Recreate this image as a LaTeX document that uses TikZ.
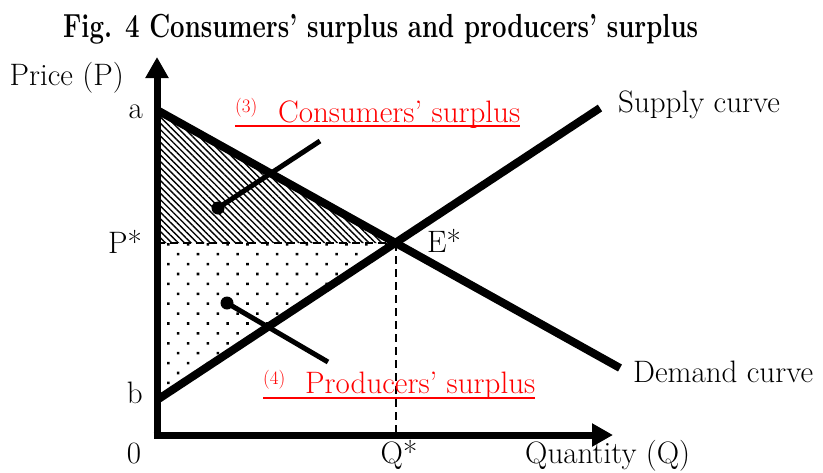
\documentclass[tikz,border=0pt]{standalone}
\usepackage{fontspec}
\usepackage{tikz}
\usetikzlibrary{positioning, arrows.meta, patterns.meta}

\begin{document}
\begin{tikzpicture}[
    x=1pt, y=-1pt,
    lbl/.style={font=\fontsize{31}{34}\selectfont, inner sep=0pt},
    ttl/.style={font=\fontsize{29}{32}\selectfont\bfseries, inner sep=0pt},
    redlbl/.style={lbl, text=red},
    num/.style={font=\fontsize{19}{21}\selectfont, text=red, inner sep=0pt},
    axis/.style={line width=7pt, -{Triangle[length=21pt, width=22pt]}},
    curve/.style={line width=8pt},
    guide/.style={line width=1.6pt, dash pattern=on 8pt off 5pt},
    leader/.style={line width=5pt},
    dot/.style={circle, fill, inner sep=0pt, minimum size=13pt},
    uline/.style={red, line width=2pt}
]
\useasboundingbox (0,0) rectangle (823,472);

% key points
\coordinate (O) at (157,435);
\coordinate (a) at (157,110);
\coordinate (b) at (157,400);
\coordinate (E) at (396,243);
\coordinate (Pstar) at (157,243);
\coordinate (Qstar) at (396,432);
\coordinate (demEnd) at (620,368);
\coordinate (supEnd) at (600,108);
\coordinate (yTip) at (157,57);
\coordinate (xTip) at (613,435);

% surplus areas
\fill[pattern={Lines[angle=-45, distance=4.5pt, line width=1.4pt]}] (a) -- (Pstar) -- (E) -- cycle;
\fill[pattern={Dots[angle=45, distance=14pt, radius=1.8pt]}] (Pstar) -- (E) -- (b) -- cycle;

\draw[guide] (Pstar) -- (E);
\draw[guide] (E) -- (Qstar);

% axes
\draw[axis] ([yshift=-3.5pt]O) -- (yTip);
\draw[axis] ([xshift=-3.5pt]O) -- (xTip);

% demand and supply
\draw[curve] (a) -- (demEnd);
\draw[curve] (b) -- (supEnd);

% pointers
\node[dot] (csDot) at (218,208) {};
\coordinate (csEnd) at (320,141);
\draw[leader] (csDot.center) -- (csEnd);
\node[dot] (psDot) at (227,303) {};
\coordinate (psEnd) at (328,362);
\draw[leader] (psDot.center) -- (psEnd);

% text
\node[ttl, anchor=base west] (title) at (63,37) {\scalebox{0.89}[1.15]{Fig. 4 Consumers’ surplus and producers’ surplus}};
\node[lbl, anchor=base east] (price) at (124,85) {Price (P)};
\node[lbl, anchor=base east] (aLbl) at (143,118) {a};
\node[lbl, anchor=base east] (pLbl) at (142,253) {P*};
\node[lbl, anchor=base east] (bLbl) at (143,403) {b};
\node[lbl, anchor=base] (zero) at (134,463) {0};
\node[lbl, anchor=base] (qLbl) at (399,463) {Q*};
\node[lbl, anchor=base west] (qty) at (525,463) {Quantity (Q)};
\node[lbl, anchor=base west] (eLbl) at (427,252) {E*};
\node[lbl, anchor=base west] (supLbl) at (618,112) {Supply curve};
\node[lbl, anchor=base west] (demLbl) at (633,382) {Demand curve};

\node[num, anchor=base west] (csNum) at (235,112) {(3)};
\node[redlbl, anchor=base west] (csText) at (278,122) {Consumers’ surplus};
\draw[uline] ([yshift=-3.5pt]csNum.west |- csText.base) -- ([yshift=-3.5pt]csText.base east);

\node[num, anchor=base west] (psNum) at (263,384) {(4)};
\node[redlbl, anchor=base west] (psText) at (305,393) {Producers’ surplus};
\draw[uline] ([yshift=-4.5pt]psNum.west |- psText.base) -- ([yshift=-4.5pt]psText.base east);
\end{tikzpicture}
\end{document}
